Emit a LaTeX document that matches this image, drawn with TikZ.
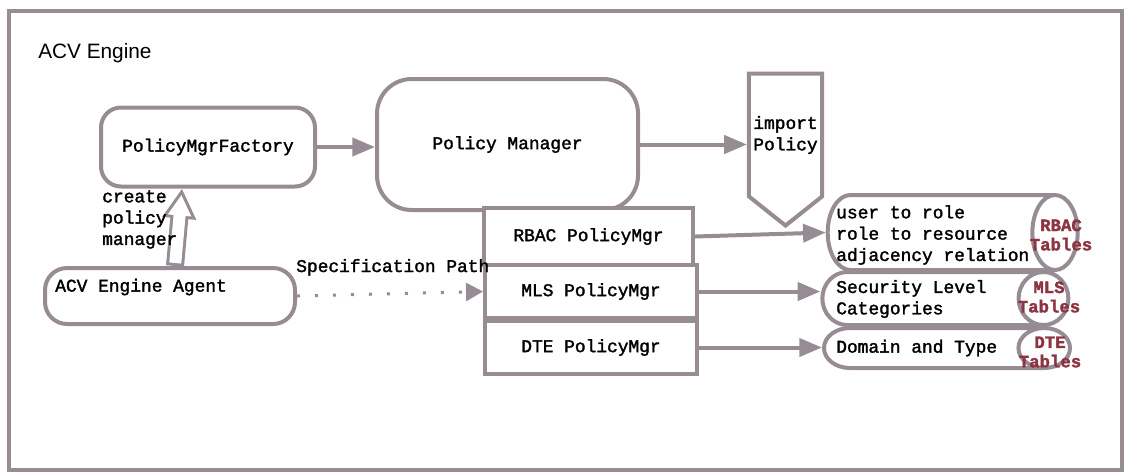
\documentclass[tikz,border=0pt]{standalone}
\usepackage{fontspec}
\setsansfont{Liberation Sans}
\setmonofont{Liberation Mono}[FakeBold=1.8]
\usetikzlibrary{arrows.meta,calc,shapes.geometric,shapes.symbols}
\definecolor{edgegrey}{RGB}{151,140,148}
\definecolor{tablered}{RGB}{140,52,66}
\tikzset{
  roundbox/.style={draw=edgegrey,line width=3pt,rounded corners=#1,fill=white},
  mgrbox/.style={draw=edgegrey,line width=3pt,fill=white,minimum width=159pt,minimum height=39.75pt},
  tablecyl/.style={cylinder,draw=edgegrey,line width=3pt,shape border rotate=0,aspect=#1},
  tablelbl/.style={text=tablered,font=\ttfamily\bfseries\fontsize{13}{14.5}\selectfont,align=center,inner sep=0.75pt},
  flow/.style={edgegrey,line width=3pt,->}
}
\begin{document}
\begin{tikzpicture}[x=0.75pt,y=0.75pt,yscale=-1,xscale=1,
  font=\ttfamily\fontsize{13.4}{16}\selectfont,
  >={Triangle[length=17pt,width=13.5pt]}]
\useasboundingbox (0,0) rectangle (1126,472);
\draw[edgegrey,line width=3pt] (9,11) rectangle (1122,470);
% Text Node
\draw (37,53) node [anchor=west] [inner sep=0.75pt] (engine) {\sffamily\fontsize{15.6}{18}\selectfont ACV Engine};
% Shapes
\draw (208,147) node [roundbox=15pt,minimum width=160.5pt,minimum height=59.25pt] (factory) {PolicyMgrFactory};
\draw (507.5,144.5) node [roundbox=26pt,minimum width=195.75pt,minimum height=98.25pt] (pm) {Policy Manager};
\draw (785.5,135) node [signal,signal to=south,signal pointer angle=103,draw=edgegrey,line width=3pt,fill=white,align=center,minimum width=54.75pt,minimum height=114pt] (imp) {import\\Policy};
\draw (588.5,236.5) node [mgrbox,minimum width=156.75pt,minimum height=42.75pt] (rbac) {RBAC PolicyMgr};
\draw (591,291.5) node [mgrbox] (mls) {MLS PolicyMgr};
\draw (591,347.5) node [mgrbox] (dte) {DTE PolicyMgr};
\draw (170,296) node [roundbox=16.5pt,minimum width=187.5pt,minimum height=42pt] (agent) {};
% Tables
\draw (935,232.5) node [tablecyl=5.1,minimum height=187.5pt,minimum width=56.25pt] (rbactab) {};
\draw (925,298.5) node [tablecyl=5.6,minimum height=184.5pt,minimum width=39.75pt] (mlstab) {};
\draw (925,348) node [tablecyl=5.8,minimum height=184.5pt,minimum width=30pt] (dtetab) {};
% Text Node
\draw (54,287) node [anchor=west] [inner sep=0.75pt] (agenttxt) {ACV Engine Agent};
% Text Node
\draw (835,235) node [anchor=west,align=left] [inner sep=0.75pt] (rbactxt) {user to role\\role to resource\\adjacency relation};
% Text Node
\draw (835,299) node [anchor=west,align=left] [inner sep=0.75pt] (mlstxt) {Security Level\\Categories};
% Text Node
\draw (835,348) node [anchor=west] [inner sep=0.75pt] (dtetxt) {Domain and Type};
% Text Node
\draw (1061,235) node [tablelbl] (rbaclbl) {RBAC\\Tables};
% Text Node
\draw (1049,297) node [tablelbl] (mlslbl) {MLS\\Tables};
% Text Node
\draw (1050,352) node [tablelbl] (dtelbl) {DTE\\Tables};
% Arrows
\draw[flow] (factory.east) -- (pm.west |- factory.east);
\draw[flow] (pm.east) -- (imp.west |- pm.east);
\draw[flow] (rbac.east) -- (rbactab.west);
\draw[flow] (mls.east) -- (mls.east -| mlstab.west);
\draw[flow] (dte.east) -- (dte.east -| dtetab.west);
\draw[edgegrey,line width=2.25pt,dash pattern=on 2.25pt off 11.25pt,-{Triangle[length=12.75pt,width=13.5pt]}] (agent.east) -- (mls.west);
% hollow arrow
\draw[edgegrey,line width=13.5pt,-{Triangle[length=22.5pt,width=24pt]}] ($(agent.north)+(5,0)$) -- ($(factory.south)+(-26,0)$);
\draw[white,line width=9pt,shorten <=2.25pt,shorten >=4.8pt,-{Triangle[length=15.5pt,width=16.5pt]}] ($(agent.north)+(5,0)$) -- ($(factory.south)+(-26,0)$);
% Text Node
\draw (101,219.5) node [anchor=west,align=left] [inner sep=0.75pt] (createtxt) {create\\policy\\manager};
% Text Node
\draw (295,272) node [anchor=base west] [inner sep=0.75pt] (spectxt) {Specification Path};
\end{tikzpicture}
\end{document}
